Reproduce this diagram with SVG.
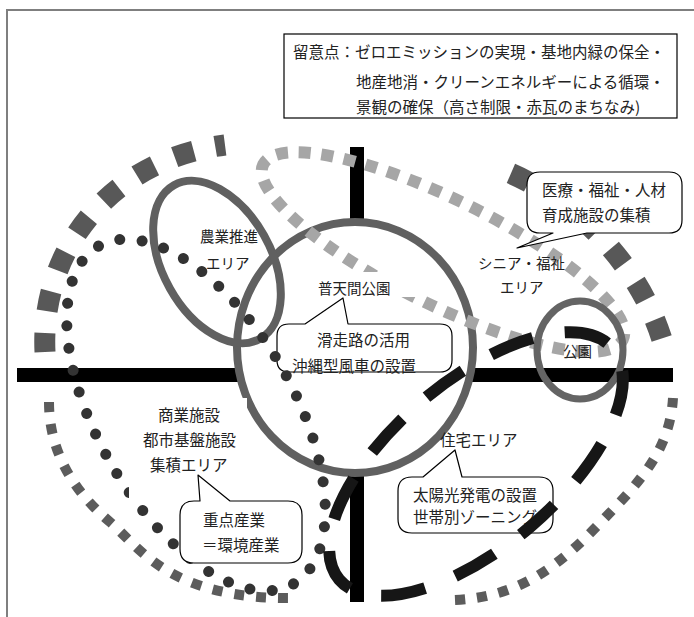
<svg xmlns="http://www.w3.org/2000/svg" width="694" height="617" viewBox="0 0 694 617">
<style>
text { font-family: 'Noto Sans CJK JP', 'Noto Sans CJK SC', sans-serif; fill: #222; }
.t15 { font-size: 15.5px; }
.t14 { font-size: 14.5px; }
.callout { fill: #fff; stroke: #000; stroke-width: 1.2; stroke-linejoin: round; }
.big { fill: none; stroke: #585858; stroke-width: 21; stroke-dasharray: 20 22; }
.small { fill: none; stroke: #5c5c5c; stroke-width: 10; stroke-dasharray: 10 12; }
.bar { fill: #000; }
.ring { fill: none; stroke: #606060; stroke-width: 8; }
.mask { fill: #fff; stroke: none; }
</style>
<rect width="694" height="617" fill="#fff"/>
<g id="frame" fill="none" stroke="#7f7f7f" stroke-width="2">
  <path d="M7,617 V10 H694"/>
</g>
<g id="outer-ring">
  <path class="big" d="M45,352 C40,250 110,160 225,145" stroke-dashoffset="1"/>
  <path class="big" d="M497,168 C560,190 640,255 665,350" stroke-dasharray="22 30" stroke-dashoffset="-15"/>
  <path class="small" d="M49,402 C49,450 72,490 110,522 C140,548 170,600 295,598"/>
  <path class="small" d="M455,600 C520,597 560,565 600,523 C640,482 670,450 673,398"/>
</g>
<g id="axes">
  <rect class="bar" x="17" y="368" width="656" height="14"/>
  <rect class="bar" x="350" y="147" width="14" height="455"/>
</g>
<g id="futenma-park">
  <ellipse cx="355" cy="347.5" rx="118" ry="125.5" fill="#fff" stroke="#606060" stroke-width="8"/>
</g>
<g id="agri-area">
  <ellipse class="ring" cx="217" cy="262" rx="88" ry="54" transform="rotate(60.7 217 262)"/>
</g>
<g id="callout-runway">
  <path class="callout" d="M289,324 H305 L343,298 L348,324 H440 Q452,324 452,336 V360 Q452,372 440,372 H289 Q277,372 277,360 V336 Q277,324 289,324 Z"/>
  <text class="t15" x="317" y="345.5">滑走路の活用</text>
  <text class="t15" x="292" y="372">沖縄型風車の設置</text>
</g>
<g id="senior-area">
  <path d="M643,252 A200,53 0 1 1 243,252 A200,53 0 1 1 643,252 Z" transform="rotate(26 443 252)" fill="none" stroke="#a6a6a6" stroke-width="12" pathLength="38" stroke-dasharray="0.53 0.47" stroke-dashoffset="0.265"/>
</g>
<g id="commerce-area">
  <path d="M391,415 A195,98 0 1 1 1,415 A195,98 0 1 1 391,415 Z" transform="rotate(60 196 415)" fill="none" stroke="#333" stroke-width="11" stroke-linecap="round" pathLength="42" stroke-dasharray="0 1"/>
</g>
<g id="label-masks">
  <rect class="mask" x="300" y="272" width="125" height="25"/>
  <rect class="mask" x="129" y="398" width="118" height="102"/>
</g>
<g id="callout-industry">
  <path class="callout" d="M194,501 H200 L198,475 L230,501 H288 Q302,501 302,515 V549 Q302,563 288,563 H194 Q180,563 180,549 V515 Q180,501 194,501 Z"/>
  <text class="t15" x="203" y="525.5">重点産業</text>
  <text class="t15" x="202" y="550.5">＝環境産業</text>
</g>
<g id="callout-medical">
  <path class="callout" d="M540,172 H669 Q682,172 682,185 V220 Q682,233 669,233 H587 L517,248 L553,233 H540 Q527,233 527,220 V185 Q527,172 540,172 Z"/>
  <text class="t15" x="542" y="195.5">医療・福祉・人材</text>
  <text class="t15" x="542" y="220.5">育成施設の集積</text>
</g>
<g id="park">
  <ellipse cx="580" cy="350" rx="43" ry="49" fill="none" stroke="#646464" stroke-width="7"/>
</g>
<g id="callout-solar">
  <path class="callout" d="M412,477 H423 L455,450 L462,477 H539 Q553,477 553,491 V519 Q553,533 539,533 H412 Q398,533 398,519 V491 Q398,477 412,477 Z"/>
  <text class="t15" x="413" y="500.5">太陽光発電の設置</text>
  <text class="t15" x="413" y="522.5">世帯別ゾーニング</text>
</g>
<g id="housing-area">
  <path d="M655,464 A179,83 0 1 1 297,464 A179,83 0 1 1 655,464 Z" transform="rotate(-40.2 476 464)" fill="none" stroke="#161616" stroke-width="12" pathLength="11" stroke-dasharray="0.58 0.42" stroke-dashoffset="0.68"/>
</g>
<g id="labels">
  <text class="t14" x="200" y="242">農業推進</text>
  <text class="t14" x="206" y="268.5">エリア</text>
  <text class="t14" x="318" y="293.5">普天間公園</text>
  <text class="t14" x="478" y="268.5">シニア・福祉</text>
  <text class="t14" x="500" y="292.5">エリア</text>
  <text class="t14" x="563" y="357">公園</text>
  <text class="t15" x="158" y="420.5">商業施設</text>
  <text class="t15" x="143" y="445.5">都市基盤施設</text>
  <text class="t15" x="150" y="470.5">集積エリア</text>
  <text class="t15" x="440" y="445.5">住宅エリア</text>
</g>
<g id="note">
  <rect x="284" y="34" width="393" height="84" fill="#fff" stroke="#000" stroke-width="1.2"/>
  <text class="t15" x="293" y="58">留意点：ゼロエミッションの実現・基地内緑の保全・</text>
  <text class="t15" x="356" y="88">地産地消・クリーンエネルギーによる循環・</text>
  <text class="t15" x="356" y="112.5">景観の確保（高さ制限・赤瓦のまちなみ)</text>
</g>
</svg>
